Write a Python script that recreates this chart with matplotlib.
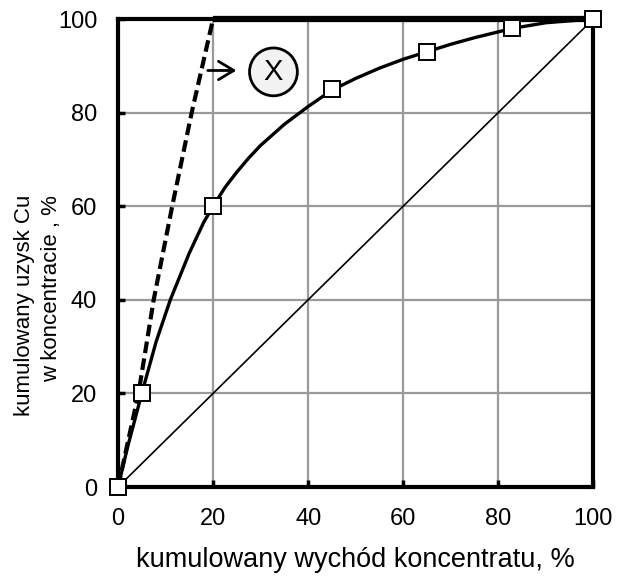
import matplotlib
matplotlib.use('Agg')
from matplotlib import pyplot as plt

plt.rcParams['font.family'] = ['Liberation Sans', 'DejaVu Sans']

# measured points (square markers)
meas_x = [0, 5, 20, 45, 65, 83, 100]
meas_y = [0, 20, 60, 85, 93, 98, 100]

# smooth curve
curve_x = [0, 2, 5, 8, 11, 15, 18, 20, 22.5, 25, 27.5, 30, 35, 40, 45, 50, 55, 60, 65, 70, 75, 83, 90, 100]
curve_y = [0, 8.5, 20, 31, 40, 50, 56.5, 60, 64, 67.3, 70.3, 73, 77.5, 81.3, 84.8, 87.3, 89.5, 91.4, 93, 94.6, 96, 98, 99.2, 100]

# ideal separation line (X)
ideal_x = [0, 4.3, 7.5, 11.4, 15.5, 20, 100]
ideal_y = [0, 20, 40, 60, 80, 100, 100]

# no-separation diagonal
diag_x = [0, 100]
diag_y = [0, 100]

fig = plt.figure(figsize=(6.18, 5.76), dpi=100)
ax = fig.add_axes([0.191, 0.1545, 0.769, 0.8125])

ax.plot(diag_x, diag_y, color='black', lw=1.2, zorder=3)
ax.plot(ideal_x[:6], ideal_y[:6], color='black', lw=3, ls=(0, (2.8, 1.3)), zorder=4)
ax.plot(ideal_x[5:], ideal_y[5:], color='black', lw=4.5, solid_capstyle='butt',
        clip_on=False, zorder=4)
ax.plot(curve_x, curve_y, color='black', lw=2.4, zorder=5)
ax.plot(meas_x, meas_y, ls='none', marker='s', ms=11, mfc='white', mec='black',
        mew=1.4, clip_on=False, zorder=6)

ax.annotate('', xy=(25.5, 89), xytext=(18.3, 89),
            arrowprops=dict(arrowstyle='->,head_length=0.5,head_width=0.3',
                            color='black', lw=2, mutation_scale=22))
ax.text(32.7, 88.7, 'X', fontsize=21, ha='center', va='center', zorder=7,
        bbox=dict(boxstyle='circle,pad=0.34', fc='#f2f2f2', ec='black', lw=2))

ax.set_xlim(0, 100)
ax.set_ylim(0, 100)
ax.set_xticks([0, 20, 40, 60, 80, 100])
ax.set_yticks([0, 20, 40, 60, 80, 100])
ax.grid(True, color='#9a9a9a', lw=1.6)
ax.set_axisbelow(True)
ax.tick_params(direction='in', length=5, width=2.5, labelsize=17)
ax.tick_params(axis='x', pad=15)
ax.tick_params(axis='y', pad=15)
for s in ax.spines.values():
    s.set_linewidth(3)

ax.set_xlabel('kumulowany wychód koncentratu, %', fontsize=19.5, labelpad=12)
fig.text(0.062, 0.47, 'kumulowany uzysk Cu\nw koncentracie , %', fontsize=16,
         rotation=90, ha='center', va='center', multialignment='right', linespacing=1.4)

plt.savefig('out.png', dpi=100)
